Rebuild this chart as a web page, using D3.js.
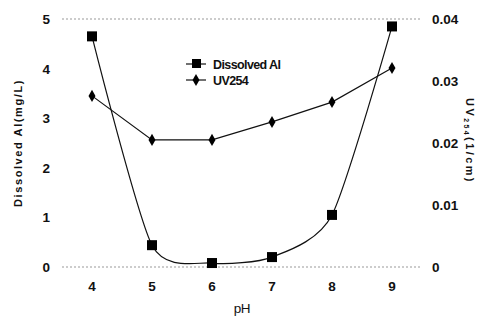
<!DOCTYPE html>
<html lang="en">
<head>
<meta charset="UTF-8">
<title>Dissolved Al / UV254 vs pH</title>
<script src="https://cdn.jsdelivr.net/npm/d3@7/dist/d3.min.js"></script>
<style>
    body { margin: 0; background: #fff; }
    svg { display: block; font-family: "Liberation Sans", Arial, sans-serif; }
    .tick-label { font-size: 13.5px; font-weight: bold; fill: #111; }
    .title { font-size: 11px; font-weight: bold; fill: #111; letter-spacing: 1.6px; }
    .legend { font-size: 12.5px; font-weight: bold; fill: #111; letter-spacing: -0.6px; }
</style>
</head>
<body>
<script>
    // data
    const phValues = [4, 5, 6, 7, 8, 9];
    const alValues = [4.65, 0.44, 0.08, 0.2, 1.05, 4.85];
    const uvValues = [0.0276, 0.0205, 0.0205, 0.0234, 0.0266, 0.0321];
    const leftTicks = [0, 1, 2, 3, 4, 5];
    const rightTicks = [0, 0.01, 0.02, 0.03, 0.04];

    const width = 490, height = 316;
    const plot = {left: 62, right: 422, top: 19, bottom: 267};

    const svg = d3.select('body').append('svg')
        .attr('width', width)
        .attr('height', height);

    const x = d3.scaleBand().domain(phValues).range([plot.left, plot.right]);
    const xc = d => x(d) + x.bandwidth() / 2;
    const yL = d3.scaleLinear().domain([0, 5]).range([plot.bottom, plot.top]);
    const yR = d3.scaleLinear().domain([0, 0.04]).range([plot.bottom, plot.top]);

    // top and bottom dotted lines
    [5, 0].forEach(v => {
        svg.append('line')
            .attr('x1', plot.left).attr('x2', plot.right)
            .attr('y1', yL(v)).attr('y2', yL(v))
            .attr('stroke', '#999').attr('stroke-width', 1)
            .attr('stroke-dasharray', '2,2');
    });

    // left tick labels
    svg.append('g').selectAll('text').data(leftTicks).join('text')
        .attr('class', 'tick-label')
        .attr('x', 50).attr('y', d => yL(d) + 5)
        .attr('text-anchor', 'end')
        .text(d => d);

    // right tick labels
    svg.append('g').selectAll('text').data(rightTicks).join('text')
        .attr('class', 'tick-label')
        .attr('x', 432).attr('y', d => yR(d) + 5)
        .text(d => d === 0 ? '0' : d.toFixed(2));

    // x tick labels
    svg.append('g').selectAll('text').data(phValues).join('text')
        .attr('class', 'tick-label')
        .attr('x', d => xc(d)).attr('y', 291)
        .attr('text-anchor', 'middle')
        .text(d => d);

    // axis titles
    svg.append('text').attr('class', 'title')
        .attr('transform', 'translate(22,' + (plot.top + plot.bottom) / 2 + ') rotate(-90)')
        .attr('text-anchor', 'middle')
        .text('Dissolved Al(mg/L)');

    const rt = svg.append('text').attr('class', 'title')
        .style('letter-spacing', '2.4px')
        .attr('transform', 'translate(466,' + ((plot.top + plot.bottom) / 2 - 2) + ') rotate(90)')
        .attr('text-anchor', 'middle');
    rt.append('tspan').text('UV');
    rt.append('tspan').attr('font-size', '7px').attr('dy', 2).text('254');
    rt.append('tspan').attr('dy', -2).text('(1/cm)');

    svg.append('text').attr('class', 'tick-label')
        .attr('x', (plot.left + plot.right) / 2).attr('y', 313)
        .attr('text-anchor', 'middle')
        .style('font-weight', 'normal')
        .style('letter-spacing', '-0.5px')
        .text('pH');

    // Dissolved Al: smoothed line
    const alLine = d3.line()
        .x((d, i) => xc(phValues[i]))
        .y(d => yL(d))
        .curve(d3.curveCardinal.tension(0.3));
    svg.append('path').datum(alValues)
        .attr('d', alLine)
        .attr('fill', 'none').attr('stroke', '#111').attr('stroke-width', 1.2);

    // UV254: straight segments
    const uvLine = d3.line()
        .x((d, i) => xc(phValues[i]))
        .y(d => yR(d));
    svg.append('path').datum(uvValues)
        .attr('d', uvLine)
        .attr('fill', 'none').attr('stroke', '#111').attr('stroke-width', 1.2);

    // markers
    svg.append('g').selectAll('rect').data(alValues).join('rect')
        .attr('x', (d, i) => xc(phValues[i]) - 5)
        .attr('y', d => yL(d) - 5)
        .attr('width', 10).attr('height', 10)
        .attr('fill', '#000');

    const diamond = d3.symbol().type(d3.symbolDiamond).size(42);
    svg.append('g').selectAll('path').data(uvValues).join('path')
        .attr('d', diamond)
        .attr('transform', (d, i) => 'translate(' + xc(phValues[i]) + ',' + yR(d) + ')')
        .attr('fill', '#000');

    // legend
    const legend = svg.append('g');
    const items = [
        {name: 'Dissolved Al', y: 64, mark: 'square'},
        {name: 'UV254', y: 80, mark: 'diamond'}
    ];
    items.forEach(it => {
        legend.append('line')
            .attr('x1', 186).attr('x2', 206)
            .attr('y1', it.y).attr('y2', it.y)
            .attr('stroke', '#111').attr('stroke-width', 1.2);
        if (it.mark === 'square') {
            legend.append('rect').attr('x', 192).attr('y', it.y - 5)
                .attr('width', 9).attr('height', 9).attr('fill', '#000');
        } else {
            legend.append('path').attr('d', diamond)
                .attr('transform', 'translate(196,' + it.y + ')')
                .attr('fill', '#000');
        }
        legend.append('text').attr('class', 'legend')
            .attr('x', 213).attr('y', it.y + 4.5)
            .text(it.name);
    });
</script>
</body>
</html>
